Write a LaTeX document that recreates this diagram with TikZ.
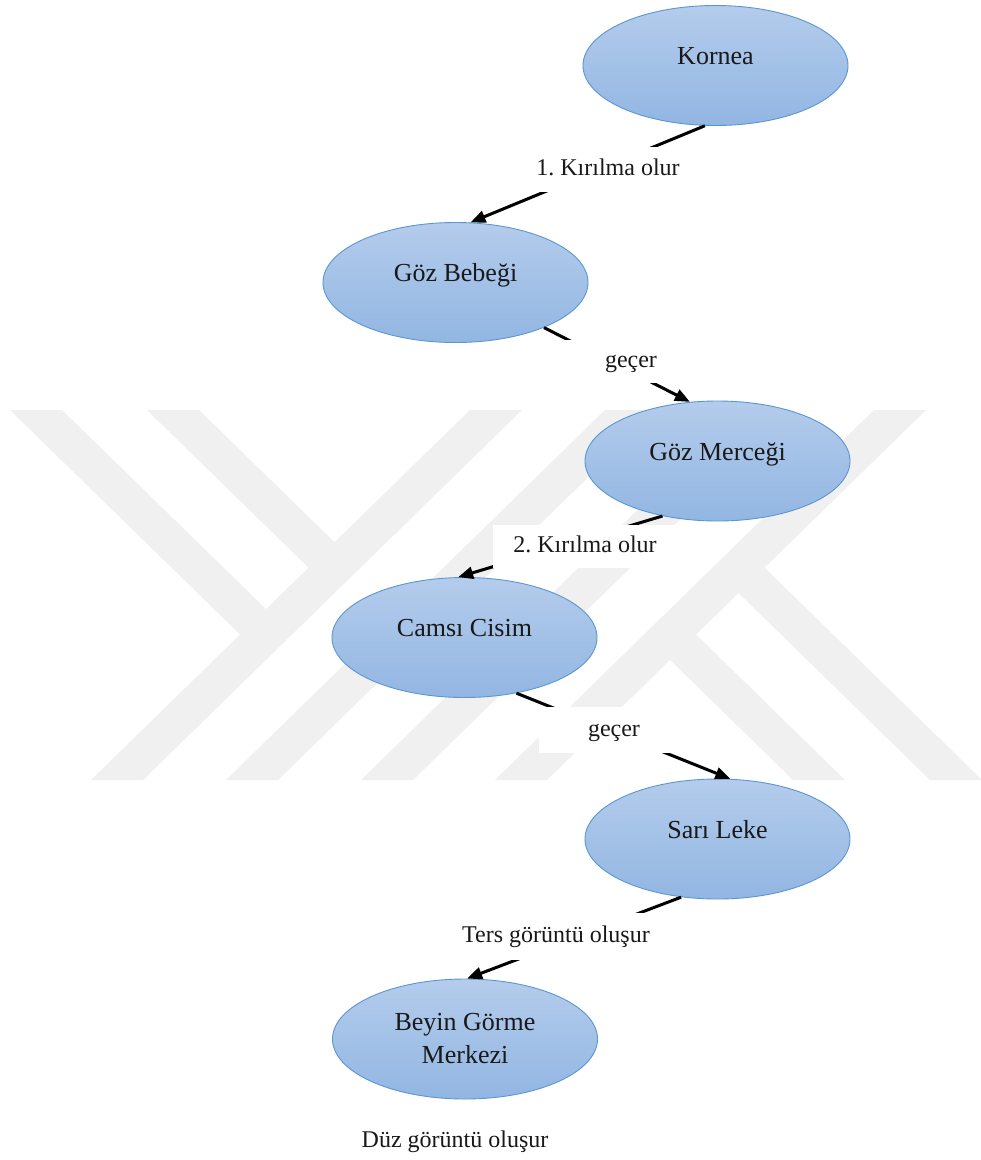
\documentclass[tikz,border=0pt]{standalone}
\usepackage{fontspec}
\setmainfont{Liberation Serif}
\frenchspacing
\usetikzlibrary{shapes.geometric,arrows.meta}
\pgfdeclarelayer{bg}
\pgfsetlayers{bg,main}
\definecolor{wm}{RGB}{240,240,240}
\definecolor{ovtop}{RGB}{180,204,236}
\definecolor{ovbot}{RGB}{146,182,226}
\definecolor{ovline}{RGB}{90,150,210}
\definecolor{txt}{RGB}{25,25,25}
\begin{document}
\begin{tikzpicture}[x=1pt,y=-1pt,
  oval/.style={ellipse, draw=ovline, line width=0.9pt, top color=ovtop, bottom color=ovbot,
    minimum width=265pt, minimum height=120pt, inner sep=0pt, text=txt,
    font=\fontsize{26}{33}\selectfont},
  one/.style={text height=18pt, text depth=20pt},
  lbl/.style={fill=white, inner sep=0pt, text=txt, font=\fontsize{24}{28}\selectfont,
    text height=17pt, text depth=5pt},
  conn/.style={draw=black, line width=3pt, -{Triangle[length=15pt,width=12pt]}},
  wmark/.style={fill=wm}
]
\useasboundingbox (0,0) rectangle (981,1160);

% nodes
\node[oval,one] (kornea) at (715.5,65.5) {Kornea};
\node[oval,one] (gozb) at (455.5,282.5) {Göz Bebeği};
\node[oval,one] (gozm) at (717.5,461) {Göz Merceği};
\node[oval,one] (camsi) at (464.5,637.5) {Camsı Cisim};
\node[oval,one] (sari) at (717.5,839) {Sarı Leke};
\node[oval,align=center] (beyin) at (465,1039) {Beyin Görme\\Merkezi};

% connectors
\draw[conn] (kornea.-100.3) -- (gozb.76.3);
\draw[conn] (gozb.-27.2) -- (gozm.115);
\draw[conn] (gozm.-135.2) -- (camsi.96.1);
\draw[conn] (camsi.-47.6) -- (sari.78);
\draw[conn] (sari.-122.9) -- (beyin.88.1);

% labels
\node[lbl, minimum width=183pt, minimum height=45pt] (l1) at (608,169.5) {1. Kırılma olur};
\node[lbl, minimum width=138pt, minimum height=43pt] (l2) at (631,361.5) {geçer};
\node[lbl, minimum width=185pt, minimum height=43pt] (l3) at (585,546.5) {2. Kırılma olur};
\node[lbl, minimum width=150pt, minimum height=46pt] (l4) at (614,730) {geçer};
\node[lbl, minimum width=253pt, minimum height=47pt] (l5) at (556,936.5) {Ters görüntü oluşur};
\node[lbl, minimum width=226pt, minimum height=47pt] (l6) at (455,1141.5) {Düz görüntü oluşur};

% watermark
\begin{pgfonlayer}{bg}
\fill[white] (0,0) rectangle (981,1160);
\fill[wmark] (470,410) -- (522,410) -- (143,780) -- (91,780) -- cycle;
\fill[wmark] (605,410) -- (657,410) -- (278,780) -- (226,780) -- cycle;
\fill[wmark] (740,410) -- (792,410) -- (413,780) -- (361,780) -- cycle;
\fill[wmark] (874,410) -- (926,410) -- (547,780) -- (495,780) -- cycle;
\fill[wmark] (10,410) -- (62,410) -- (266.1,609.1) -- (240.1,634.5) -- cycle;
\fill[wmark] (147,410) -- (199,410) -- (334.6,542.3) -- (308.6,567.7) -- cycle;
\fill[wmark] (670.1,659.9) -- (696.1,634.5) -- (845,780) -- (793,780) -- cycle;
\fill[wmark] (738.6,593) -- (764.6,567.7) -- (982,780) -- (930,780) -- cycle;
\end{pgfonlayer}
\end{tikzpicture}
\end{document}
